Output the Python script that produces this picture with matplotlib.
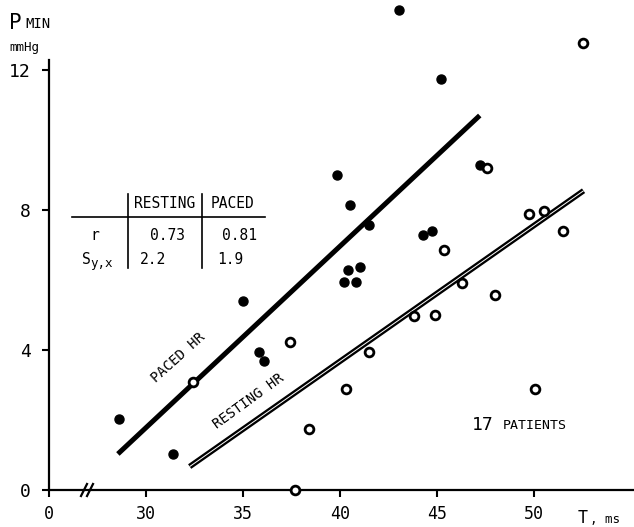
'''
plot.py
minimum pressure vs time constant, resting and paced heart rate
'''

import matplotlib.pyplot as plt
from matplotlib.lines import Line2D

# paced HR (filled dots)
paced_t = [28.6, 31.4, 35.0, 35.8, 36.1, 39.85, 40.5, 41.5, 40.4, 41.05,
           40.2, 40.8, 44.3, 44.75, 47.2, 43.05, 45.2]
paced_p = [2.03, 1.03, 5.4, 3.95, 3.7, 9.0, 8.13, 7.56, 6.28, 6.37,
           5.93, 5.93, 7.29, 7.39, 9.3, 13.71, 11.75]

# resting HR (open circles)
rest_t = [32.4, 37.4, 38.4, 37.7, 40.3, 41.5, 43.8, 44.9, 45.35, 46.3,
          47.55, 48.0, 49.75, 50.5, 51.5, 50.05, 52.5]
rest_p = [3.08, 4.23, 1.74, 0.0, 2.9, 3.95, 4.98, 5.0, 6.87, 5.92,
          9.19, 5.57, 7.88, 7.98, 7.39, 2.89, 12.78]

# regression lines
paced_fit_t = [28.55, 47.2]
paced_fit_p = [1.03, 10.7]
rest_fit_t = [32.25, 52.55]
rest_fit_p = [0.67, 8.55]

x_ticks = [25, 30, 35, 40, 45, 50]
x_labels = ['0', '30', '35', '40', '45', '50']
y_ticks = [0, 4, 8, 12]

table_cols = ['RESTING', 'PACED']
table_rows = ['r', 'Sy,x']
table_vals = [['0.73', '0.81'], ['2.2', '1.9']]

W, H = 634, 527
FONT = 'DejaVu Sans Mono'


def fx(px):
    return px / W


def fy(py):
    return 1 - py / H


fig = plt.figure(figsize=(W / 100, H / 100), dpi=100)
ax = fig.add_axes([fx(49), fy(490), (W - 49) / W, 490 / H])
ax.set_xlim(25, 55.15)
ax.set_ylim(0, 14.0)

# regression lines
ax.plot(paced_fit_t, paced_fit_p, color='black', lw=3.6, solid_capstyle='butt', zorder=2)
ax.plot(rest_fit_t, rest_fit_p, color='black', lw=4.0, solid_capstyle='butt', zorder=2)
ax.plot(rest_fit_t, rest_fit_p, color='white', lw=0.7, solid_capstyle='butt', zorder=2)

# data points
ax.plot(paced_t, paced_p, 'o', color='black', ms=6.5, clip_on=False, zorder=3)
ax.plot(rest_t, rest_p, 'o', mfc='white', mec='black', mew=2.0, ms=6.3,
        clip_on=False, zorder=4)

# axes
for s in ['top', 'right']:
    ax.spines[s].set_visible(False)
ax.spines['left'].set_linewidth(1.6)
ax.spines['bottom'].set_linewidth(1.6)
ax.spines['left'].set_bounds(0, 12.3)
ax.set_xticks(x_ticks)
ax.set_xticklabels(x_labels)
ax.set_yticks(y_ticks)
ax.tick_params(direction='out', length=5, width=1.5, labelsize=12, pad=6)
ax.tick_params(axis='y', pad=8, labelsize=13)
for lab in ax.get_xticklabels() + ax.get_yticklabels():
    lab.set_family(FONT)

# axis break
for px in (84, 90):
    fig.add_artist(Line2D([fx(px - 3), fx(px + 3)], [fy(496), fy(484)],
                          color='black', lw=1.6))

# axis titles
fig.text(fx(9), fy(29), 'P', fontsize=15, family=FONT)
fig.text(fx(25), fy(28), 'MIN', fontsize=10, family=FONT)
fig.text(fx(9), fy(51), 'mmHg', fontsize=9, family=FONT)
fig.text(fx(578), fy(523), 'T', fontsize=12, family=FONT)
fig.text(fx(590), fy(523), ', ms', fontsize=9, family=FONT)

# line labels
ax.text(31.65, 3.77, 'PACED HR', rotation=42, rotation_mode='anchor',
        ha='center', va='center', fontsize=10, family=FONT)
ax.text(35.3, 2.54, 'RESTING HR', rotation=36, rotation_mode='anchor',
        ha='center', va='center', fontsize=10, family=FONT)
fig.text(fx(472), fy(430), '17', fontsize=13, family=FONT)
fig.text(fx(503), fy(429), 'PATIENTS', fontsize=9.5, family=FONT)

# stats table
fig.add_artist(Line2D([fx(72), fx(265)], [fy(217), fy(217)], color='black', lw=1.2))
for px in (128, 202):
    fig.add_artist(Line2D([fx(px), fx(px)], [fy(194), fy(268)], color='black', lw=1.2))
col_x = [165, 233]
for cx, name in zip(col_x, table_cols):
    fig.text(fx(cx), fy(204), name, fontsize=10.5, family=FONT, ha='center', va='center')
row_y = [236, 260]
fig.text(fx(95), fy(row_y[0]), table_rows[0], fontsize=10.5, family=FONT, ha='center', va='center')
fig.text(fx(82), fy(row_y[1]), 'S', fontsize=10.5, family=FONT, va='center')
fig.text(fx(90), fy(row_y[1] + 3), 'y,x', fontsize=9, family=FONT, va='center')
val_x = [[150, 222], [140, 217]]
for i, row in enumerate(table_vals):
    for j, val in enumerate(row):
        fig.text(fx(val_x[i][j]), fy(row_y[i]), val, fontsize=10.5, family=FONT, va='center')

fig.savefig('out.png', dpi=100)
